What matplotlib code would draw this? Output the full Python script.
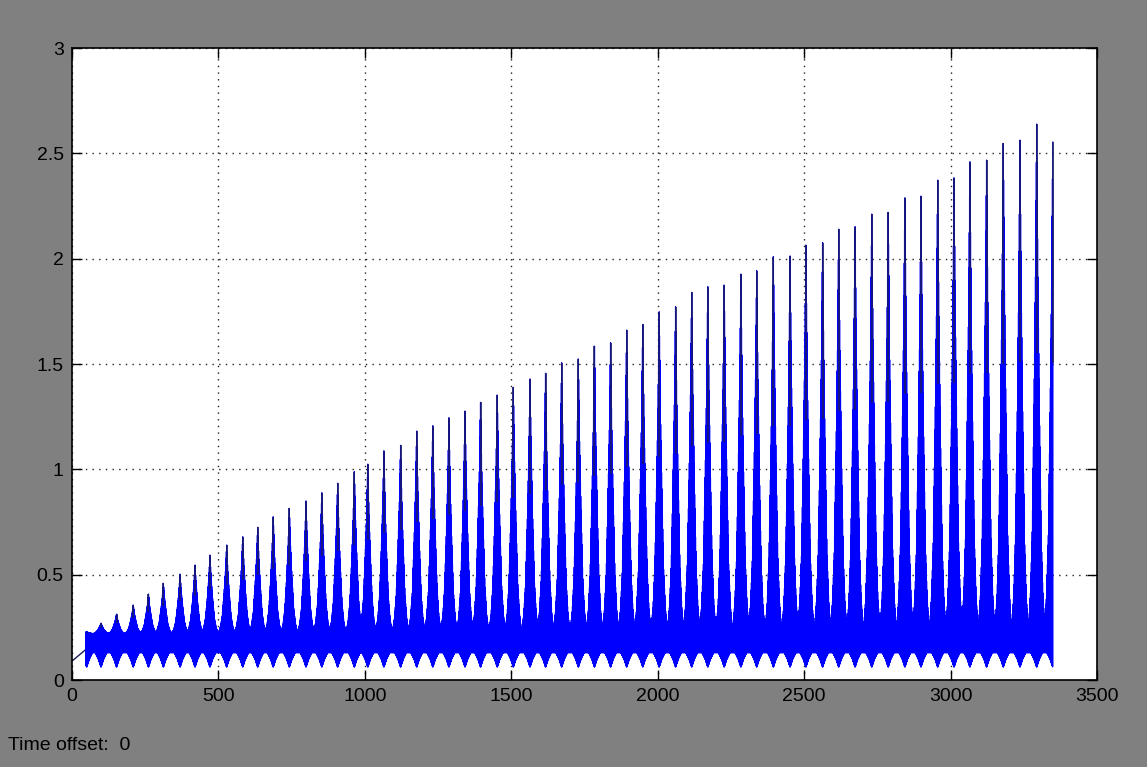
import numpy as np
import matplotlib
matplotlib.use("Agg")
import matplotlib.pyplot as plt

# spike times and peak values
spike_t = [50, 99, 152, 209, 261, 312, 369, 420, 471, 528, 583, 634, 687, 742,
           799, 853, 907, 964, 1010, 1065, 1122, 1177, 1232, 1287, 1342, 1395,
           1452, 1507, 1564, 1617, 1672, 1729, 1784, 1839, 1894, 1949, 2005,
           2061, 2116, 2171, 2227, 2284, 2338, 2395, 2452, 2506, 2563, 2618,
           2674, 2731, 2787, 2844, 2899, 2956, 3012, 3066, 3123, 3180, 3237,
           3294, 3349]
spike_peak = [0.229, 0.27, 0.313, 0.356, 0.408, 0.459, 0.503, 0.546, 0.593,
              0.641, 0.68, 0.725, 0.775, 0.815, 0.85, 0.889, 0.934, 0.989,
              1.025, 1.088, 1.114, 1.182, 1.207, 1.245, 1.277, 1.318, 1.353,
              1.389, 1.429, 1.456, 1.506, 1.524, 1.585, 1.601, 1.661, 1.688,
              1.748, 1.772, 1.84, 1.867, 1.875, 1.927, 1.943, 2.01, 2.013,
              2.065, 2.076, 2.14, 2.152, 2.212, 2.22, 2.289, 2.297, 2.373,
              2.384, 2.46, 2.468, 2.547, 2.563, 2.639, 2.553]

# start-up segment before the oscillation kicks in
start_t = [0, 47]
start_y = [0.09, 0.145]

# band the signal rattles in between spikes
band_top = 0.22
band_low = 0.13
dip_low = 0.06

cone_d = [0, 2, 4, 9, 15, 21, 26, 28]
cone_frac = [1.0, 0.85, 0.7, 0.45, 0.2, 0.08, 0.03, 0.0]
dip_d = [0, 9, 20]
dip_frac = [1.0, 0.45, 0.0]

xticks = [0, 500, 1000, 1500, 2000, 2500, 3000, 3500]
yticks = [0, 0.5, 1, 1.5, 2, 2.5, 3]

# build the trace: samples alternate between upper and lower envelope
t = np.arange(47, spike_t[-1] + 0.5, 0.5)
st = np.array(spike_t, dtype=float)
sp = np.array(spike_peak)
k = np.abs(t[:, None] - st[None, :]).argmin(axis=1)
d = np.abs(t - st[k])
upper = band_top + (sp[k] - band_top).clip(0) * np.interp(d, cone_d, cone_frac)
lower = band_low - (band_low - dip_low) * np.interp(d, dip_d, dip_frac)
y = np.where(np.arange(len(t)) % 2 == 0, upper, lower)

plt.rcParams['font.family'] = ['Liberation Sans', 'DejaVu Sans']

fig = plt.figure(figsize=(11.47, 7.67), dpi=100, facecolor='#808080')
ax = fig.add_axes([0.0628, 0.1134, 0.8936, 0.824])
ax.set_facecolor('white')

ax.plot(start_t, start_y, color='#1c1c5c', lw=1.0)
ax.plot(t, y, color='#0000ff', lw=0.9)
ax.vlines(spike_t, band_top + 0.55 * (sp - band_top).clip(0), spike_peak,
          color='#1c1c5c', lw=1.1)

ax.set_xlim(0, 3500)
ax.set_ylim(0, 3)
ax.set_xticks(xticks)
ax.set_yticks(yticks)
ax.set_xticklabels([str(v) for v in xticks])
ax.set_yticklabels(['0', '0.5', '1', '1.5', '2', '2.5', '3'])
ax.tick_params(direction='in', length=7.2, width=1.0, labelsize=14,
               top=True, right=True, pad=6, colors='black')
ax.grid(True, color='#202020', linestyle=(0, (1, 3.8)), lw=1.0)
for s in ax.spines.values():
    s.set_linewidth(1.2)
    s.set_color('black')

fig.text(0.007, 0.022, 'Time offset:  0', fontsize=14, color='black')

fig.savefig('out.png', dpi=100, facecolor=fig.get_facecolor())
